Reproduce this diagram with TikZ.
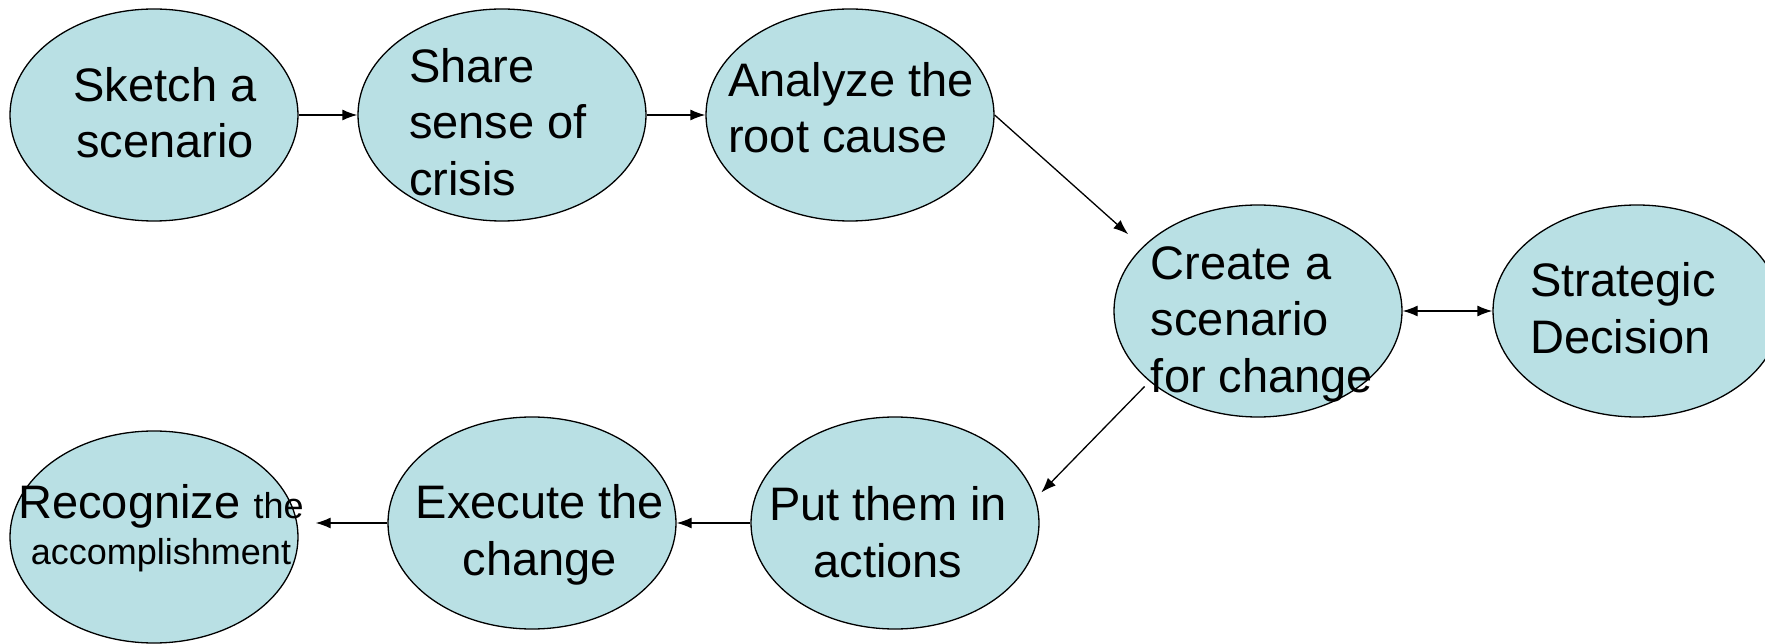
\documentclass[tikz,border=0pt]{standalone}
\usepackage{fontspec}
\setmainfont{Liberation Sans}
\usetikzlibrary{arrows.meta,shapes.geometric,calc}
\definecolor{ellfill}{RGB}{185,224,228}
\tikzset{
  ell/.style={ellipse,draw=black,line width=1.3pt,fill=ellfill,minimum width=288pt,minimum height=212pt,inner sep=0pt},
  lbl/.style={font=\fontsize{47}{56.5}\selectfont,inner sep=0pt},
  conn/.style={line width=1.3pt,-{Latex[length=15pt,width=11pt]}},
  dconn/.style={line width=1.3pt,{Latex[length=15pt,width=11pt]}-{Latex[length=15pt,width=11pt]}}
}
\begin{document}
\begin{tikzpicture}[x=1pt,y=-1pt]
\useasboundingbox (0,0) rectangle (1765,644);
\clip (0,0) rectangle (1765,644);
\node[ell] (sk) at (154,115) {};
\node[ell] (sh) at (502,115) {};
\node[ell] (an) at (850,115) {};
\node[ell] (cr) at (1258,311) {};
\node[ell] (st) at (1637,311) {};
\node[ell] (re) at (154,537) {};
\node[ell] (ex) at (532,523) {};
\node[ell] (pu) at (895,523) {};
\node[lbl,align=center] (t1) at (165,112.5) {Sketch a\\scenario};
\node[lbl,align=left] (t2) at (498,122) {Share\\sense of\\crisis};
\node[lbl,align=left] (t3) at (851,107.5) {Analyze the\\root cause};
\node[lbl,align=left] (t4) at (1262,324) {Create a\\scenario\\for change};
\node[lbl,align=left] (t5) at (1623,308) {Strategic\\Decision};
\node[lbl,align=center] (t6) at (161,528) {Recognize {\fontsize{36}{41}\selectfont the}\\[-10pt]{\fontsize{36}{41}\selectfont accomplishment}};
\node[lbl,align=center] (t7) at (540,535) {Execute the\\change};
\node[lbl,align=center] (t8) at (888,532) {Put them in\\actions};
\draw[conn] (sk.east) -- (sh.west);
\draw[conn] (sh.east) -- (an.west);
\draw[conn,shorten >=19pt] (an.east) -- (cr.151);
\draw[dconn] (cr.east) -- (st.west);
\draw[conn,shorten <=7pt,shorten >=8pt] (cr.213) -- (pu.10);
\draw[conn] (pu.west) -- (ex.east);
\draw[conn,shorten >=17pt] (ex.west) -- (ex.west -| re.east);
\end{tikzpicture}
\end{document}
